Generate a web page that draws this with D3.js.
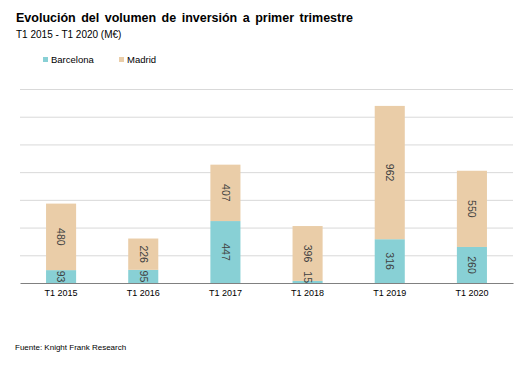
<!DOCTYPE html>
<html>
<head>
<meta charset="utf-8">
<script src="https://cdn.jsdelivr.net/npm/d3@7"></script>
<style>
  body { margin: 0; background: #fff; }
  svg { font-family: "Liberation Sans", Arial, sans-serif; }
</style>
</head>
<body>
<div id="chart"></div>
<script>
// data
const years = ["T1 2015", "T1 2016", "T1 2017", "T1 2018", "T1 2019", "T1 2020"];
const barcelona = [93, 95, 447, 15, 316, 260];
const madrid = [480, 226, 407, 396, 962, 550];
const seriesNames = ["Barcelona", "Madrid"];
const seriesColors = ["#88d0d5", "#eacda8"];
const yTicks = [0, 200, 400, 600, 800, 1000, 1200, 1400];

const width = 532, height = 377;
const margin = {top: 89, right: 19, bottom: 94, left: 20};

const svg = d3.select("#chart").append("svg")
    .attr("width", width)
    .attr("height", height);

const rows = years.map((y, i) => ({year: y, Barcelona: barcelona[i], Madrid: madrid[i]}));
const stacked = d3.stack().keys(seriesNames)(rows);

const x = d3.scaleBand()
    .domain(years)
    .range([margin.left, width - margin.right])
    .paddingInner(0.634)
    .paddingOuter(0.317);

const y = d3.scaleLinear()
    .domain([0, 1400])
    .range([height - margin.bottom, margin.top]);

const color = d3.scaleOrdinal(seriesNames, seriesColors);

// gridlines
svg.append("g")
    .selectAll("line")
    .data(yTicks.slice(1))
    .join("line")
    .attr("x1", margin.left)
    .attr("x2", width - margin.right)
    .attr("y1", d => y(d) + 0.5)
    .attr("y2", d => y(d) + 0.5)
    .attr("stroke", "#d9d9d9")
    .attr("stroke-width", 1);

// bars
svg.append("g")
    .selectAll("g")
    .data(stacked)
    .join("g")
    .attr("fill", d => color(d.key))
    .selectAll("rect")
    .data(d => d)
    .join("rect")
    .attr("x", d => x(d.data.year))
    .attr("y", d => y(d[1]))
    .attr("width", x.bandwidth())
    .attr("height", d => y(d[0]) - y(d[1]));

// rotated value labels on top of all bars, kept inside the plot like Excel does
const labels = stacked.flatMap(s => s.map(v => ({v, key: s.key})));
svg.append("g")
    .selectAll("text")
    .data(labels)
    .join("text")
    .attr("text-anchor", "middle")
    .attr("dy", "0.35em")
    .attr("fill", "#404040")
    .style("font-size", "10.5px")
    .text(d => d.v.data[d.key])
    .attr("transform", function(d) {
        const half = this.getComputedTextLength() / 2;
        const cx = x(d.v.data.year) + x.bandwidth() / 2;
        let cy = (y(d.v[0]) + y(d.v[1])) / 2;
        cy = Math.min(cy, y(0) - half);
        return `translate(${cx},${cy}) rotate(90)`;
    });

// x axis
const xAxis = svg.append("g")
    .attr("transform", `translate(0,${y(0)})`)
    .call(d3.axisBottom(x).tickSize(0).tickPadding(7));
xAxis.select(".domain")
    .attr("stroke", "#808080")
    .attr("stroke-width", 1.2);
xAxis.selectAll("text")
    .attr("fill", "#000")
    .style("font-size", "9px")
    .style("font-family", "\"Liberation Sans\", Arial, sans-serif");

// title
svg.append("text")
    .attr("x", 16)
    .attr("y", 22)
    .style("font-size", "12.5px")
    .style("font-weight", "bold")
    .style("word-spacing", "2px")
    .attr("fill", "#000")
    .text("Evolución del volumen de inversión a primer trimestre");

svg.append("text")
    .attr("x", 16)
    .attr("y", 38)
    .style("font-size", "10px")
    .attr("fill", "#000")
    .text("T1 2015 - T1 2020 (M€)");

// legend
const legendX = [43, 119];
const legend = svg.append("g")
    .selectAll("g")
    .data(seriesNames)
    .join("g")
    .attr("transform", (d, i) => `translate(${legendX[i]},57)`);

legend.append("rect")
    .attr("width", 5)
    .attr("height", 5)
    .attr("fill", d => color(d));

legend.append("text")
    .attr("x", 8)
    .attr("y", 5.5)
    .style("font-size", "9.5px")
    .attr("fill", "#000")
    .text(d => d);

// source
svg.append("text")
    .attr("x", 15)
    .attr("y", 350)
    .style("font-size", "8px")
    .attr("fill", "#000")
    .text("Fuente: Knight Frank Research");
</script>
</body>
</html>
